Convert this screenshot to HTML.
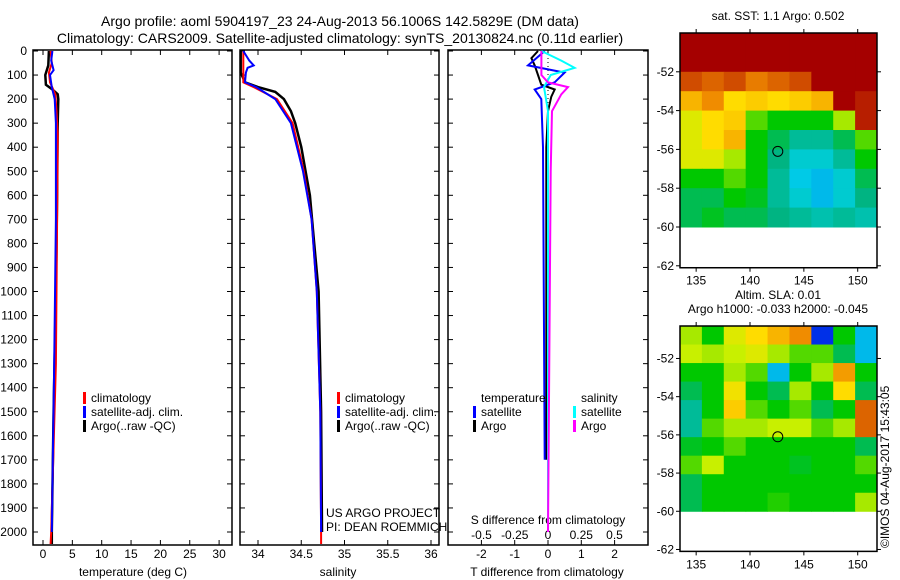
<!DOCTYPE html>
<html><head><meta charset="utf-8"><style>
body{margin:0;background:#fff;}
svg{display:block;font-family:"Liberation Sans",sans-serif;}
text{fill:#000;}
</style></head><body>
<svg id="fig" width="900" height="580" viewBox="0 0 900 580">
<g>
<text x="340" y="26" font-size="14" text-anchor="middle">Argo profile: aoml 5904197_23 24-Aug-2013 56.1006S 142.5829E (DM data)</text>
<text x="340" y="43" font-size="14" text-anchor="middle">Climatology: CARS2009. Satellite-adjusted climatology: synTS_20130824.nc (0.11d earlier)</text>
</g>
<g id="p1"></g>
<g id="p2"></g>
<g id="p3"></g>
<g id="m1"></g>
<g id="m2"></g>
<text transform="translate(889,548) rotate(-90)" font-size="12">©IMOS 04-Aug-2017 15:43:05</text>
</svg>
<script>
// ---- data ----
const depthTicks=[0,100,200,300,400,500,600,700,800,900,1000,1100,1200,1300,1400,1500,1600,1700,1800,1900,2000];
const tTicks=[0,5,10,15,20,25,30];
const sTicks=[34,34.5,35,35.5,36];
const dtTicks=[-2,-1,0,1,2];
const dsTicks=[-0.5,-0.25,0,0.25,0.5];
const tArgoD=[0,60,100,140,160,180,200,300,600,1000,1500,2000,2050];
const tArgoV=[1.0,0.9,0.4,0.5,1.6,2.5,2.6,2.5,2.4,2.2,1.8,1.5,1.5];
const tClimD=[0,50,90,130,180,250,350,700,1300,2000,2050];
const tClimV=[1.3,1.5,1.0,1.2,2.1,2.3,2.5,2.4,2.2,1.4,1.3];
const tSatD=[0,40,80,100,150,200,300,700,1300,2000];
const tSatV=[1.6,1.4,1.8,1.2,1.5,2.0,2.2,2.2,1.9,1.5];
const sArgoD=[0,90,130,150,170,200,250,300,400,500,600,800,1000,1500,2000];
const sArgoV=[33.8,33.8,33.85,34.0,34.2,34.3,34.38,34.43,34.5,34.55,34.6,34.65,34.7,34.73,34.74];
const sClimD=[0,130,150,200,300,500,700,1000,1500,2000,2050];
const sClimV=[33.83,33.83,33.95,34.22,34.4,34.53,34.62,34.68,34.72,34.73,34.73];
const sSatD=[0,40,60,70,90,130,150,200,300,500,700,1000,1500,2000];
const sSatV=[33.83,33.9,33.95,33.88,33.86,33.85,33.98,34.2,34.38,34.52,34.62,34.68,34.72,34.73];
const dtArgoD=[0,30,60,100,140,160,190,250,400,1700];
const dtArgoV=[-0.3,-0.5,-0.4,-0.3,-0.2,0.2,0.1,0.0,-0.05,-0.05];
const dtSatD=[0,60,90,130,160,200,400,1700];
const dtSatV=[-0.1,-0.6,0.5,0.2,-0.4,-0.2,-0.15,-0.1];
const dsSatD=[0,40,70,100,150,250,2000];
const dsSatV=[-0.05,0.1,0.2,0.02,-0.03,0.0,0.0];
const dsArgoD=[0,100,130,150,180,250,500,2000];
const dsArgoV=[-0.05,-0.05,0.0,0.15,0.1,0.03,0.02,0.0];
const latTicks=[-52,-54,-56,-58,-60,-62];
const lonTicks=[135,140,145,150];
const sstGrid=[
[1,1,1,1,1,1,1,1,1],
[1,1,1,1,1,1,1,1,1],
[.88,.85,.88,.82,.85,.88,1,1,1],
[.75,.8,.7,.72,.7,.72,.75,1,.95],
[.65,.7,.72,.55,.5,.5,.5,.6,.95],
[.65,.7,.75,.5,.45,.4,.4,.45,.55],
[.65,.65,.6,.5,.42,.35,.35,.4,.5],
[.5,.5,.55,.5,.4,.32,.3,.35,.45],
[.45,.45,.5,.48,.4,.35,.3,.35,.42],
[.45,.48,.45,.45,.42,.4,.38,.4,.38]];
const slaGrid=[
[.6,.5,.65,.7,.75,.8,.12,.5,.3],
[.62,.6,.62,.65,.6,.55,.55,.45,.3],
[.5,.5,.6,.55,.3,.5,.6,.78,.5],
[.45,.5,.68,.5,.45,.6,.5,.7,.45],
[.4,.5,.72,.55,.5,.55,.45,.5,.85],
[.4,.55,.6,.6,.62,.62,.55,.6,.85],
[.48,.5,.55,.5,.5,.5,.5,.5,.45],
[.55,.62,.5,.5,.5,.48,.5,.5,.55],
[.45,.5,.5,.5,.5,.5,.5,.5,.5],
[.45,.5,.5,.5,.52,.5,.5,.5,.6]];
const argoLon=142.58, argoLat=-56.1;

// ---- helpers ----
const NS="http://www.w3.org/2000/svg";
function mk(tag,attrs,parent){const e=document.createElementNS(NS,tag);for(const k in attrs)e.setAttribute(k,attrs[k]);parent.appendChild(e);return e;}
const yD=d=>51+d*0.2405;
const TOP=50,BOT=545;
function frame(g,x0,x1){const r=mk('rect',{x:x0,y:TOP,width:x1-x0,height:BOT-TOP,fill:'none',stroke:'#000','stroke-width':1.5},g);

depthTicks.forEach(d=>{mk('line',{x1:x0,x2:x0+5,y1:yD(d),y2:yD(d),stroke:'#000'},g);mk('line',{x1:x1,x2:x1-5,y1:yD(d),y2:yD(d),stroke:'#000'},g);});}
function xt(g,ticks,fx,labels){ticks.forEach(v=>{const x=fx(v);mk('line',{x1:x,x2:x,y1:BOT,y2:BOT-5,stroke:'#000'},g);mk('line',{x1:x,x2:x,y1:TOP,y2:TOP+5,stroke:'#000'},g);
if(labels){const t=mk('text',{x:x,y:558,'font-size':12,'text-anchor':'middle'},g);t.textContent=String(v);}});}
function line(g,D,V,fx,col,w,name){const p=D.map((d,i)=>fx(V[i]).toFixed(1)+','+yD(d).toFixed(1)).join(' ');
const e=mk('polyline',{points:p,fill:'none',stroke:col,'stroke-width':w},g);}
function legend(g,x,y,items){items.forEach((it,i)=>{mk('rect',{x:x,y:y+i*14-10,width:3,height:12,fill:it[1]},g);
const t=mk('text',{x:x+8,y:y+i*14,'font-size':12},g);t.textContent=it[0];});}
function lbl(g,x,y,s,name,anchor){const t=mk('text',{x:x,y:y,'font-size':12,'text-anchor':anchor||'middle'},g);t.textContent=s;return t;}

// panel 1
const g1=document.getElementById('p1');
const fT=v=>43+v*5.87;
frame(g1,33,232);xt(g1,tTicks,fT,true);
depthTicks.forEach(d=>lbl(g1,27,yD(d)+4,String(d),'y-tick-label','end'));
line(g1,tArgoD,tArgoV,fT,'#000',2.5,'temp-argo-line');
line(g1,tClimD,tClimV,fT,'#f00',2,'temp-climatology-line');
line(g1,tSatD,tSatV,fT,'#00f',2,'temp-satellite-line');
legend(g1,83,402,[['climatology','#f00'],['satellite-adj. clim.','#00f'],['Argo(..raw -QC)','#000']]);
lbl(g1,133,576,'temperature (deg C)','x-axis-title');

// panel 2
const g2=document.getElementById('p2');
const fS=v=>258+(v-34)*86.5;
frame(g2,240,439);xt(g2,sTicks,fS,true);
line(g2,sArgoD,sArgoV,fS,'#000',2.5,'sal-argo-line');
line(g2,sClimD,sClimV,fS,'#f00',2,'sal-climatology-line');
line(g2,sSatD,sSatV,fS,'#00f',2,'sal-satellite-line');
legend(g2,337,402,[['climatology','#f00'],['satellite-adj. clim.','#00f'],['Argo(..raw -QC)','#000']]);
lbl(g2,326,517,'US ARGO PROJECT','credit-line','start');
lbl(g2,326,531,'PI: DEAN ROEMMICH','credit-line','start');
lbl(g2,338,576,'salinity','x-axis-title');

// panel 3
const g3=document.getElementById('p3');
const fDT=v=>548+v*33.3, fDS=v=>548+v*133;
frame(g3,448,648);xt(g3,dtTicks,fDT,true);
dsTicks.forEach(v=>lbl(g3,fDS(v),539,String(v),'s-diff-tick-label'));
lbl(g3,548,524,'S difference from climatology','s-axis-title');
mk('line',{x1:fDT(0),x2:fDT(0),y1:TOP,y2:yD(300),stroke:'#000','stroke-dasharray':'1,3'},g3);
line(g3,dtArgoD,dtArgoV,fDT,'#000',2,'tdiff-argo-line');
line(g3,dtSatD,dtSatV,fDT,'#00f',2,'tdiff-satellite-line');
line(g3,dsSatD,dsSatV,fDS,'#0ff',2,'sdiff-satellite-line');
line(g3,dsArgoD,dsArgoV,fDS,'#f0f',2,'sdiff-argo-line');
lbl(g3,481,402,'temperature','legend-heading','start');
lbl(g3,581,402,'salinity','legend-heading','start');
legend(g3,473,416,[['satellite','#00f'],['Argo','#000']]);
legend(g3,573,416,[['satellite','#0ff'],['Argo','#f0f']]);
lbl(g3,547,576,'T difference from climatology','x-axis-title');

// maps
function jet(v){const stops=[[0,[0,0,140]],[0.15,[0,60,255]],[0.33,[0,210,230]],[0.42,[0,180,130]],[0.5,[0,200,0]],[0.62,[200,240,0]],[0.7,[255,220,0]],[0.8,[240,140,0]],[0.9,[200,60,0]],[1,[165,0,0]]];
for(let i=1;i<stops.length;i++){if(v<=stops[i][0]){const a=stops[i-1],b=stops[i],t=(v-a[0])/(b[0]-a[0]);return 'rgb('+a[1].map((c,k)=>Math.round(c+(b[1][k]-c)*t)).join(',')+')';}}return 'rgb(165,0,0)';}
function map(id,top,latPx,grid,titles){
const g=document.getElementById(id);const x0=680,x1=877;
const fLon=v=>680+(v-133.5)*10.77;
const topLat=id==='m1'?-50:-50.3;const fLt=v=>top+(topLat-v)*latPx;
const rows=grid.length,cols=grid[0].length;const cw=(x1-x0)/cols,ch=(fLt(-60)-top)/rows;
grid.forEach((row,r)=>row.forEach((v,c)=>{const e=mk('rect',{x:x0+c*cw,y:top+r*ch,width:cw+0.5,height:ch+0.5,fill:jet(v)},g);
}));
const bot=fLt(-62.1);
const fr=mk('rect',{x:x0,y:top,width:x1-x0,height:bot-top,fill:'none',stroke:'#000','stroke-width':1.5},g);

latTicks.forEach(v=>{const y=fLt(v);mk('line',{x1:x0-4,x2:x0,y1:y,y2:y,stroke:'#000'},g);mk('line',{x1:x1,x2:x1+4,y1:y,y2:y,stroke:'#000'},g);lbl(g,x0-6,y+4,String(v),'lat-tick-label','end');});
lonTicks.forEach(v=>{const x=fLon(v);mk('line',{x1:x,x2:x,y1:bot,y2:bot+4,stroke:'#000'},g);mk('line',{x1:x,x2:x,y1:top,y2:top-4,stroke:'#000'},g);lbl(g,x,bot+17,String(v),'lon-tick-label');});
const c=mk('circle',{cx:fLon(argoLon),cy:fLt(argoLat),r:5,fill:'none',stroke:'#000'},g);

titles.forEach((t,i)=>lbl(g,778,top-(titles.length-i)*14+1,t,'map-title'));}
map('m1',33,19.4,sstGrid,['sat. SST: 1.1 Argo: 0.502']);
map('m2',326,19.1,slaGrid,['Altim. SLA: 0.01','Argo h1000: -0.033 h2000: -0.045']);
</script>
</body></html>
